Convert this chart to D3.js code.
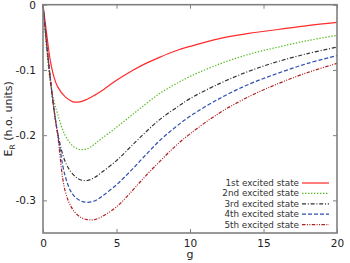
<!DOCTYPE html>
<html><head><meta charset="utf-8">
<script src="https://cdn.jsdelivr.net/npm/d3@7"></script>
<style>body{margin:0;background:#fff}svg{display:block}</style>
</head><body>
<script>
const gValues = [0,0.25,0.5,0.75,1,1.5,2,2.5,3,3.5,4,5,6,7,8,9,10,12,14,16,18,20];
const state1 = [0,-0.045,-0.086,-0.111,-0.126,-0.141,-0.1485,-0.149,-0.145,-0.139,-0.132,-0.116,-0.102,-0.090,-0.080,-0.071,-0.064,-0.052,-0.044,-0.038,-0.032,-0.027];
const state2 = [0,-0.07,-0.12,-0.148,-0.168,-0.200,-0.216,-0.222,-0.221,-0.214,-0.205,-0.188,-0.170,-0.152,-0.135,-0.122,-0.110,-0.091,-0.076,-0.065,-0.055,-0.047];
const state3 = [0,-0.06,-0.115,-0.161,-0.197,-0.240,-0.259,-0.268,-0.2695,-0.265,-0.257,-0.239,-0.217,-0.195,-0.175,-0.159,-0.144,-0.121,-0.102,-0.087,-0.075,-0.065];
const state4 = [0,-0.06,-0.113,-0.161,-0.197,-0.262,-0.290,-0.300,-0.303,-0.301,-0.294,-0.276,-0.254,-0.230,-0.207,-0.188,-0.171,-0.144,-0.122,-0.105,-0.090,-0.078];
const state5 = [0,-0.06,-0.113,-0.161,-0.200,-0.285,-0.313,-0.325,-0.3295,-0.3295,-0.325,-0.310,-0.287,-0.262,-0.239,-0.217,-0.198,-0.166,-0.141,-0.121,-0.104,-0.090];
const seriesNames = ["1st excited state","2nd excited state","3rd excited state","4th excited state","5th excited state"];
const xTicks = [0,5,10,15,20];
const yTicks = [0,-0.1,-0.2,-0.3];
const yTickLabels = ["0","-0.1","-0.2","-0.3"];

const allSeries = [state1,state2,state3,state4,state5];
const colors = ["#ff2a2a","#55bb22","#333333","#2f4fb0","#b01f1f"];
const dashes = [null,"1.4,1.6","4,1.8,1,1.8","4,2","3.5,1.4,1,1.4,1,1.4"];

const W=350,H=263;
const m={l:43,r:13,t:4.7,b:30};
const svg=d3.select("body").append("svg").attr("width",W).attr("height",H);
const x=d3.scaleLinear().domain([0,20]).range([m.l,W-m.r]);
const y=d3.scaleLinear().domain([-0.35,0]).range([H-m.b,m.t]);

const line=d3.line().x((d,i)=>x(gValues[i])).y(d=>y(d)).curve(d3.curveCatmullRom.alpha(0.5));
const plot=svg.append("g");
allSeries.forEach((s,k)=>{
  plot.append("path").attr("d",line(s)).attr("fill","none")
    .attr("stroke",colors[k]).attr("stroke-width",1.2)
    .attr("stroke-dasharray",dashes[k]);
});

const axisColor="#808080";
const tl=4;
const fx=(g)=>g.call(s=>s.select(".domain").remove()).call(s=>s.selectAll("line").attr("stroke",axisColor).attr("stroke-width",1));
svg.append("g").attr("transform",`translate(0,${H-m.b})`)
  .call(d3.axisBottom(x).tickValues(xTicks).tickSize(-tl).tickPadding(7).tickFormat(d3.format("d")))
  .call(fx).call(s=>s.selectAll("text").attr("font-family","DejaVu Sans").attr("font-size",10.5).attr("fill","#222"));
svg.append("g").attr("transform",`translate(0,${m.t})`)
  .call(d3.axisTop(x).tickValues(xTicks).tickSize(-tl).tickFormat(""))
  .call(fx);
svg.append("g").attr("transform",`translate(${m.l},0)`)
  .call(d3.axisLeft(y).tickValues(yTicks).tickSize(-tl).tickPadding(7).tickFormat((d,i)=>yTickLabels[i]))
  .call(fx).call(s=>s.selectAll("text").attr("font-family","DejaVu Sans").attr("font-size",10.5).attr("fill","#222"));
svg.append("g").attr("transform",`translate(${W-m.r},0)`)
  .call(d3.axisRight(y).tickValues(yTicks).tickSize(-tl).tickFormat(""))
  .call(fx);

svg.append("rect").attr("x",m.l).attr("y",m.t).attr("width",W-m.r-m.l).attr("height",H-m.b-m.t)
  .attr("fill","none").attr("stroke",axisColor).attr("stroke-width",1.6);

svg.append("text").attr("x",(m.l+W-m.r)/2).attr("y",258).attr("text-anchor","middle")
  .attr("font-family","DejaVu Sans").attr("font-size",11).attr("fill","#222").text("g");
const yl=svg.append("text").attr("transform",`translate(12,${(m.t+H-m.b)/2}) rotate(-90)`).attr("text-anchor","middle")
  .attr("font-family","DejaVu Sans").attr("font-size",11).attr("fill","#222");
yl.append("tspan").text("E");
yl.append("tspan").attr("font-size",7.5).attr("dy",2.5).text("R");
yl.append("tspan").attr("dy",-2.5).text(" (h.o. units)");

const leg=svg.append("g");
seriesNames.forEach((n,k)=>{
  const yy=183+k*10.4;
  leg.append("text").attr("x",299).attr("y",yy+3).attr("text-anchor","end")
    .attr("font-family","DejaVu Sans").attr("font-size",8.8).attr("fill","#333").text(n);
  leg.append("line").attr("x1",302).attr("x2",329).attr("y1",yy).attr("y2",yy)
    .attr("stroke",colors[k]).attr("stroke-width",1.2).attr("stroke-dasharray",dashes[k]);
});
</script>
</body></html>
